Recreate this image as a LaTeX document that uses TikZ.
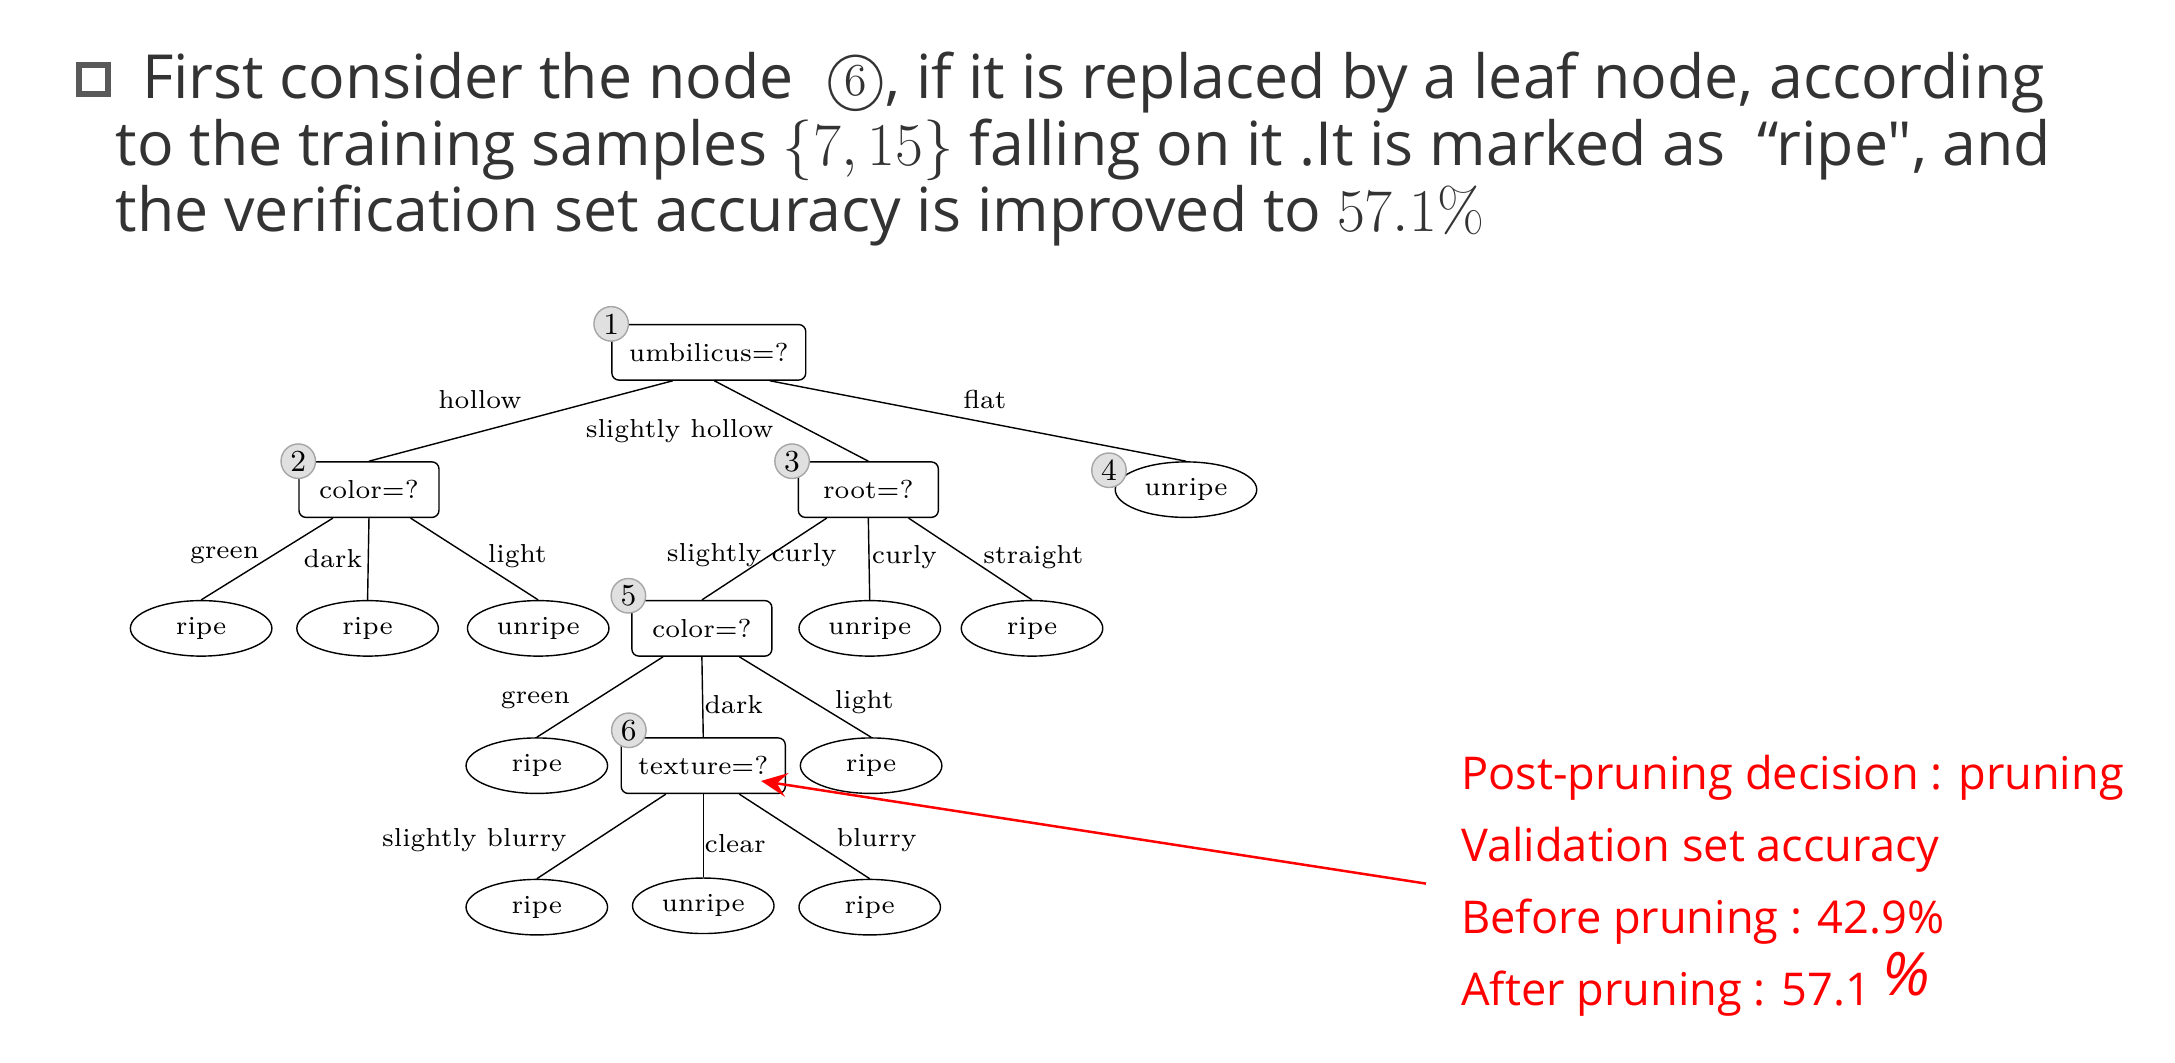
\documentclass[tikz,border=0pt]{standalone}
\usepackage{fontspec}
\newfontfamily\slidefont{Open Sans}
\usetikzlibrary{shapes.geometric,calc,arrows.meta}

\definecolor{slidegray}{HTML}{333333}
\definecolor{bulletgray}{HTML}{595959}
\definecolor{badgefill}{HTML}{E0E0E0}

\newcommand{\circnum}[1]{{\ooalign{$\bigcirc$\cr\hfil\rmfamily\fontsize{13}{13}\selectfont\raisebox{.15ex}{#1}\hfil\cr}}}

\tikzset{
  test/.style={draw, rounded corners=2pt, font=\fontsize{7.4}{9}\selectfont,
    minimum width=1.40cm, minimum height=0.555cm, inner xsep=0.17cm},
  leaf/.style={draw, ellipse, font=\fontsize{7.4}{9}\selectfont,
    minimum width=1.415cm, minimum height=0.555cm, inner sep=0pt},
  badge/.style={circle, draw=gray!70, fill=badgefill, minimum size=0.345cm,
    inner sep=0pt, font=\fontsize{8.7}{9}\selectfont},
  lbl/.style={font=\fontsize{7.4}{9}\selectfont, inner sep=0pt},
  title/.style={anchor=base west, inner sep=0pt,
    font=\slidefont\fontsize{17.3}{20}\selectfont, text=slidegray},
  note/.style={anchor=base west, inner sep=0pt,
    font=\slidefont\fontsize{12.85}{15}\selectfont, text=red},
}

\begin{document}
\begin{tikzpicture}[x=0.1387mm,y=-0.1387mm]
\useasboundingbox (0,0) rectangle (1568,766);

% heading
\draw[bulletgray, line width=0.6mm] (57,47) rectangle (78,68);
\node[title] (t1) at (102,71) {First consider the node \ \circnum{6}, if it is replaced by a leaf node, according};
\node[title] (t2) at (83,119) {to the training samples $\{7,15\}$ falling on it .It is marked as \ “ripe", and};
\node[title] (t3) at (83,167) {the verification set accuracy is improved to $57.1\%$};

% tree
\node[test] (n1) at (511,254) {umbilicus=?};
\node[test] (n2) at (266,353) {color=?};
\node[test] (n3) at (626,353) {root=?};
\node[leaf] (n4) at (855,353) {unripe};

\node[leaf] (l21) at (145,453) {ripe};
\node[leaf] (l22) at (265,453) {ripe};
\node[leaf] (l23) at (388,453) {unripe};
\node[test] (n5) at (506,453) {color=?};
\node[leaf] (l32) at (627,453) {unripe};
\node[leaf] (l33) at (744,453) {ripe};

\node[leaf] (l51) at (387,552) {ripe};
\node[test] (n6) at (507,552) {texture=?};
\node[leaf] (l53) at (628,552) {ripe};

\node[leaf] (l61) at (387,654) {ripe};
\node[leaf] (l62) at (507,653) {unripe};
\node[leaf] (l63) at (627,654) {ripe};

\node[badge] (b1) at (n1.north west) {1};
\node[badge] (b2) at (n2.north west) {2};
\node[badge] (b3) at ($(n3.north west)+(-4,0)$) {3};
\node[badge] (b4) at ($(n4.west)+(-4,-14)$) {4};
\node[badge] (b5) at ($(n5.north west)+(-2,-3)$) {5};
\node[badge] (b6) at ($(n6.north west)+(6,-5)$) {6};

\draw ($(n1.south)+(-26,0)$) -- (n2.north);
\draw ($(n1.south)+(4,0)$) -- (n3.north);
\draw ($(n1.south)+(44,0)$) -- (n4.north);

\draw ($(n2.south)+(-26,0)$) -- (l21.north);
\draw (n2.south) -- (l22.north);
\draw ($(n2.south)+(30,0)$) -- (l23.north);

\draw ($(n3.south)+(-30,0)$) -- (n5.north);
\draw (n3.south) -- (l32.north);
\draw ($(n3.south)+(29,0)$) -- (l33.north);

\draw ($(n5.south)+(-28,0)$) -- (l51.north);
\draw (n5.south) -- (n6.north);
\draw ($(n5.south)+(27,0)$) -- (l53.north);

\draw ($(n6.south)+(-27,0)$) -- (l61.north);
\draw (n6.south) -- (l62.north);
\draw ($(n6.south)+(26,0)$) -- (l63.north);

% branch labels
\node[lbl] (e12) at (346,288) {hollow};
\node[lbl] (e13) at (490,311) {slightly hollow};
\node[lbl] (e14) at (710,288) {flat};
\node[lbl] (e21) at (162,400) {green};
\node[lbl] (e22) at (240,403) {dark};
\node[lbl] (e23) at (373,401) {light};
\node[lbl] (e31) at (542,400) {slightly curly};
\node[lbl] (e32) at (652,402) {curly};
\node[lbl] (e33) at (745,402) {straight};
\node[lbl] (e51) at (386,505) {green};
\node[lbl] (e52) at (529,508) {dark};
\node[lbl] (e53) at (623,506) {light};
\node[lbl] (e61) at (342,606) {slightly blurry};
\node[lbl] (e62) at (530,608) {clear};
\node[lbl] (e63) at (632,606) {blurry};

% pruning note
\node[note] (p1) at (1053,569) {Post-pruning decision : pruning};
\node[note] (p2) at (1053,621) {Validation set accuracy};
\node[note] (p3) at (1053,673) {Before pruning : 42.9\%};
\node[note] (p4) at (1053,725) {After pruning : 57.1 \raisebox{.4ex}{\fontsize{17}{17}\selectfont\itshape\%}};

\coordinate (from) at (1028,637);
\coordinate (to) at ($(n6.east)+(-18,11)$);
\draw[red, line width=0.25mm, -{Stealth[length=2.6mm,width=2.4mm,inset=1mm]}] (from) -- (to);
\end{tikzpicture}
\end{document}
